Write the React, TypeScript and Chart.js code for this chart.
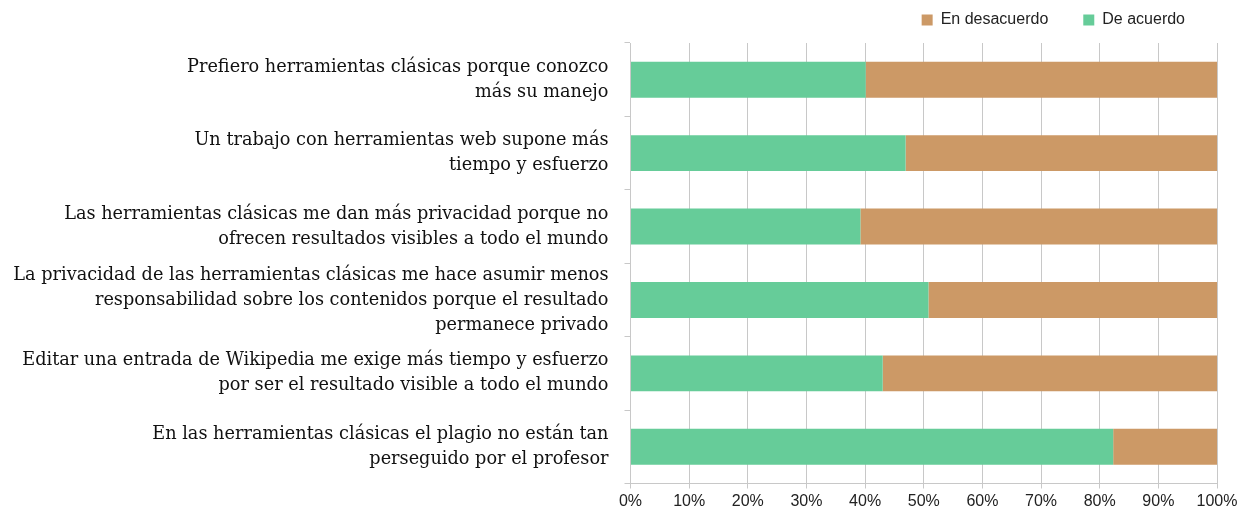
import React, { useEffect, useRef } from "react";
import { Chart, registerables } from "chart.js";

Chart.register(...registerables);

const categories: string[][] = [
  ["Prefiero herramientas clásicas porque conozco", "más su manejo"],
  ["Un trabajo con herramientas web supone más", "tiempo y esfuerzo"],
  ["Las herramientas clásicas me dan más privacidad porque no", "ofrecen resultados visibles a todo el mundo"],
  [
    "La privacidad de las herramientas clásicas me hace asumir menos",
    "responsabilidad sobre los contenidos porque el resultado",
    "permanece privado",
  ],
  ["Editar una entrada de Wikipedia me exige más tiempo y esfuerzo", "por ser el resultado visible a todo el mundo"],
  ["En las herramientas clásicas el plagio no están tan", "perseguido por el profesor"],
];

const deAcuerdo: number[] = [40.1, 46.9, 39.2, 50.8, 43.0, 82.3];
const enDesacuerdo: number[] = [59.9, 53.1, 60.8, 49.2, 57.0, 17.7];

const xTickValues: number[] = [0, 10, 20, 30, 40, 50, 60, 70, 80, 90, 100];

const W = 1238;
const H = 510;

const legendShift = {
  id: "legendShift",
  afterLayout(chart: any) {
    const l = chart.legend;
    if (!l) return;
    l.top = -23;
    l.bottom = l.top + l.height;
    l.right = 1220;
  },
};

export default function App() {
  const ref = useRef<HTMLCanvasElement | null>(null);

  useEffect(() => {
    if (!ref.current) return;
    const grid = "#c8c8c8";
    const chart = new Chart(ref.current, {
      type: "bar",
      data: {
        labels: categories,
        datasets: [
          {
            label: "De acuerdo",
            data: deAcuerdo,
            backgroundColor: "#66CC99",
            borderWidth: 0,
          },
          {
            label: "En desacuerdo",
            data: enDesacuerdo,
            backgroundColor: "#CC9966",
            borderWidth: 0,
          },
        ],
      },
      options: {
        indexAxis: "y",
        responsive: false,
        animation: false,
        layout: { padding: { top: -18, right: 21, left: 0, bottom: 0 } },
        datasets: {
          bar: { barPercentage: 0.49, categoryPercentage: 1 },
        },
        plugins: {
          tooltip: { enabled: false },
          legend: {
            position: "top",
            align: "end",
            reverse: true,
            labels: {
              boxWidth: 11,
              boxHeight: 11,
              padding: 35,
              color: "#222",
              font: { family: "'Liberation Sans', Arial, sans-serif", size: 16 },
            },
          },
        },
        scales: {
          x: {
            stacked: true,
            min: 0,
            max: 100,
            afterBuildTicks: (s: any) => {
              s.ticks = xTickValues.map((v) => ({ value: v }));
            },
            afterFit: (s: any) => {
              s.height = 26.5;
              s.paddingRight = 21;
            },
            grid: { color: grid, lineWidth: 1, tickLength: 5, drawTicks: true },
            border: { display: true, color: grid },
            ticks: {
              padding: 3,
              color: "#222",
              maxRotation: 0,
              font: { family: "'Liberation Sans', Arial, sans-serif", size: 16 },
              callback: (v: any) => v + "%",
            },
          },
          y: {
            stacked: true,
            afterFit: (s: any) => {
              s.width = 630.5;
              s.paddingTop = 43;
              s.paddingBottom = 0;
            },
            grid: {
              display: true,
              drawOnChartArea: false,
              drawTicks: true,
              tickLength: 6,
              color: grid,
              offset: true,
            },
            border: { display: true, color: grid },
            ticks: {
              autoSkip: false,
              padding: 16,
              color: "#111",
              font: { family: "'DejaVu Serif', serif", size: 17.7, lineHeight: 25 / 17.7 },
            },
          },
        },
      },
      plugins: [legendShift],
    } as any);
    return () => chart.destroy();
  }, []);

  return (
    <div style={{ position: "absolute", left: 0, top: 0, width: W, height: H, background: "#fff" }}>
      <canvas ref={ref} width={W} height={H} style={{ display: "block" }} />
    </div>
  );
}
